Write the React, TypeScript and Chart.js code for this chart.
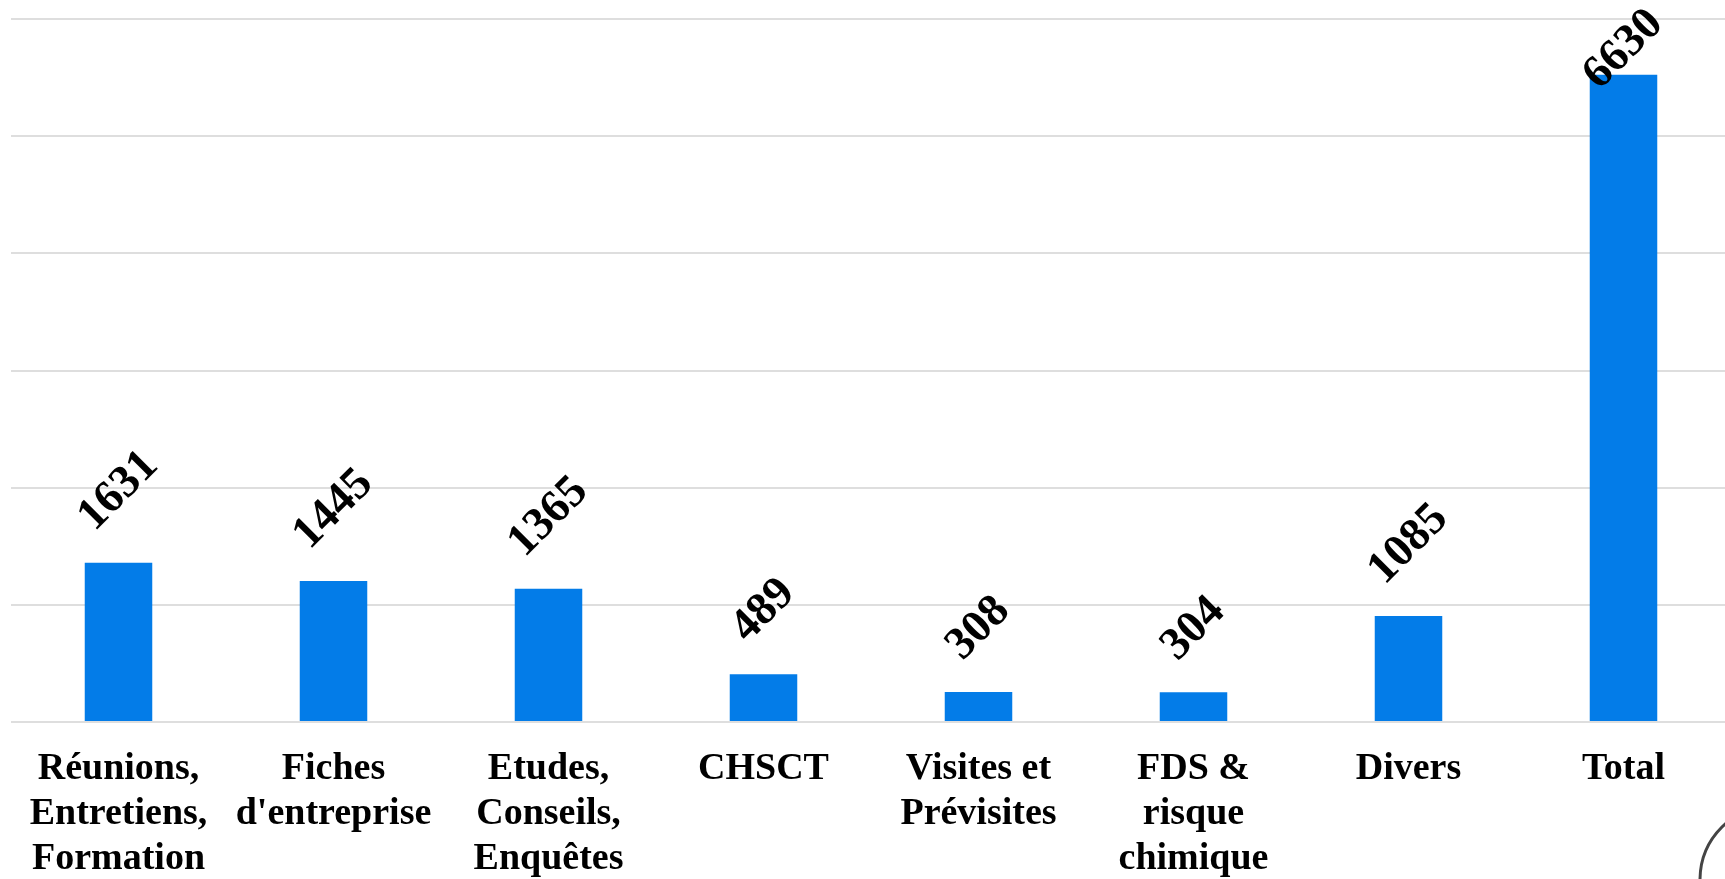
import React, { useEffect, useRef } from "react";
import { Chart, registerables } from "chart.js";

Chart.register(...registerables);

const categories: string[][] = [
  ["Réunions,", "Entretiens,", "Formation"],
  ["Fiches", "d'entreprise"],
  ["Etudes,", "Conseils,", "Enquêtes"],
  ["CHSCT"],
  ["Visites et", "Prévisites"],
  ["FDS &", "risque", "chimique"],
  ["Divers"],
  ["Total"],
];
const values: number[] = [1631, 1445, 1365, 489, 308, 304, 1085, 6630];
const yMax = 7200;
const yStep = 1200;

const BAR_COLOR = "#037CE8";
const GRID_COLOR = "#DEDEDE";
const FONT = '"Liberation Serif", "Times New Roman", serif';

const rotatedLabels = {
  id: "rotatedLabels",
  afterDatasetsDraw(chart: any) {
    const ctx = chart.ctx as CanvasRenderingContext2D;
    const meta = chart.getDatasetMeta(0);
    const fs = 46;
    ctx.save();
    ctx.font = `bold ${fs}px ${FONT}`;
    ctx.fillStyle = "#000";
    meta.data.forEach((bar: any, i: number) => {
      const text = String(values[i]);
      const w = ctx.measureText(text).width;
      const h = fs * 0.68;
      const half = ((w + h) * Math.SQRT1_2) / 2;
      let cy = bar.y - 28 - half;
      if (cy - half < 6) cy = 6 + half;
      ctx.save();
      ctx.translate(bar.x, cy);
      ctx.rotate(-Math.PI / 4);
      ctx.textAlign = "center";
      ctx.textBaseline = "middle";
      ctx.fillText(text, 0, 0);
      ctx.restore();
    });
    ctx.restore();
  },
};

const cornerMark = {
  id: "cornerMark",
  afterDraw(chart: any) {
    const ctx = chart.ctx as CanvasRenderingContext2D;
    ctx.save();
    ctx.strokeStyle = "#444";
    ctx.lineWidth = 3;
    ctx.beginPath();
    ctx.arc(1775, 880, 75, 0, Math.PI * 2);
    ctx.stroke();
    ctx.restore();
  },
};

export default function App() {
  const ref = useRef<HTMLCanvasElement | null>(null);
  useEffect(() => {
    if (!ref.current) return;
    const chart = new Chart(ref.current, {
      type: "bar",
      data: {
        labels: categories,
        datasets: [
          {
            data: values,
            backgroundColor: BAR_COLOR,
            borderWidth: 0,
            categoryPercentage: 1,
            barPercentage: 0.314,
          },
        ],
      },
      options: {
        animation: false,
        responsive: false,
        maintainAspectRatio: false,
        devicePixelRatio: 1,
        layout: { padding: { top: 19, left: 11, right: 4, bottom: 0 } },
        plugins: {
          legend: { display: false },
          tooltip: { enabled: false },
          title: { display: false },
        },
        scales: {
          x: {
            grid: { display: false, drawTicks: false },
            border: { display: false },
            ticks: {
              color: "#000",
              font: { family: FONT, size: 38, weight: "bold", lineHeight: 1.18 },
              padding: 25,
              maxRotation: 0,
              minRotation: 0,
              autoSkip: false,
            },
            afterFit: (scale: any) => {
              scale.height = 157;
            },
          },
          y: {
            min: 0,
            max: yMax,
            ticks: { display: false, stepSize: yStep },
            grid: { color: GRID_COLOR, lineWidth: 2, drawTicks: false },
            border: { display: false },
            afterFit: (scale: any) => {
              scale.width = 0;
            },
          },
        },
      },
      plugins: [rotatedLabels, cornerMark],
    });
    return () => chart.destroy();
  }, []);

  return (
    <div
      style={{
        position: "fixed",
        left: 0,
        top: 0,
        width: 1725,
        height: 879,
        overflow: "hidden",
        background: "#fff",
      }}
    >
      <canvas
        ref={ref}
        width={1735}
        height={879}
        style={{ position: "absolute", left: 0, top: 0, width: 1735, height: 879 }}
      />
    </div>
  );
}
